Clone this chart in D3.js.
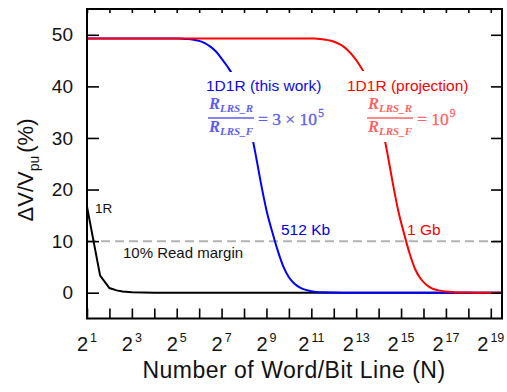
<!DOCTYPE html>
<html>
<head>
<meta charset="utf-8">
<script src="https://cdn.jsdelivr.net/npm/d3@7"></script>
<style>
  html, body { margin: 0; padding: 0; background: #fff; }
  svg { display: block; font-family: "Liberation Sans", Arial, Helvetica, sans-serif; }
</style>
</head>
<body>
<svg id="chart" width="507" height="392"></svg>
<script>
// log2(N) sample positions and ΔV/Vpu (%) for each array type
const blueExp = [1, 3, 4, 4.5, 5, 5.25, 5.5, 5.75, 6, 6.25, 6.5, 6.75, 7, 7.25, 7.5, 7.75, 8, 8.25, 8.5, 8.75, 9, 9.25, 9.5, 9.75, 10, 10.25, 10.5, 10.75, 11, 11.25, 11.5, 12, 12.5, 14, 16, 18, 19.5];
const blueVal = [49.3, 49.3, 49.3, 49.3, 49.28, 49.25, 49.16, 49.02, 48.82, 48.4, 47.7, 46.75, 45.4, 43.9, 42.2, 39.9, 36.8, 32.6, 27.2, 21.3, 16.0, 11.9, 8.2, 5.1, 3.0, 1.75, 1.0, 0.55, 0.3, 0.15, 0.07, 0.02, 0, 0, 0, 0, 0];

const redExp = [1, 4, 7, 9, 10, 10.875, 11.125, 11.375, 11.625, 11.875, 12.125, 12.375, 12.625, 12.875, 13.125, 13.375, 13.625, 13.875, 14.125, 14.375, 14.625, 14.875, 15.125, 15.375, 15.625, 15.875, 16.125, 16.375, 16.625, 16.875, 17.125, 17.375, 17.875, 18.375, 19.5];
const redVal = [49.3, 49.3, 49.3, 49.3, 49.3, 49.3, 49.27, 49.2, 49.05, 48.85, 48.45, 47.9, 47.0, 45.8, 44.3, 42.5, 40.1, 37.0, 32.8, 27.4, 21.4, 15.9, 11.6, 7.7, 4.6, 2.7, 1.55, 0.85, 0.5, 0.3, 0.17, 0.08, 0.02, 0, 0];

const oneRExp = [1, 1.585, 2, 2.322, 2.585, 3, 3.5, 4, 6, 10, 14, 19.5];
const oneRVal = [16.7, 3.3, 0.9, 0.45, 0.22, 0.08, 0.02, 0, 0, 0, 0, 0];

const readMargin = 10;
const yTicks = [0, 10, 20, 30, 40, 50];
const xMinorExp = d3.range(1, 20);
const xLabelExp = [1, 3, 5, 7, 9, 11, 13, 15, 17, 19];

const svg = d3.select("#chart");
const L = 87, R = 502, T = 9, B = 318.5;

const x = d3.scaleLog().base(2).domain([2, Math.pow(2, 19.5)]).range([L, R]);
const y = d3.scaleLinear().domain([-5, 55]).range([B, T]);

const zip = (ex, vs) => ex.map((e, i) => ({ n: Math.pow(2, e), v: vs[i] }));

const clipId = "plot-clip";
svg.append("clipPath").attr("id", clipId)
  .append("rect").attr("x", L).attr("y", T).attr("width", R - L).attr("height", B - T);

const plot = svg.append("g").attr("clip-path", `url(#${clipId})`);

// 10% read margin reference
plot.append("line")
  .attr("x1", L).attr("x2", R)
  .attr("y1", y(readMargin)).attr("y2", y(readMargin))
  .attr("stroke", "#b3b3b3").attr("stroke-width", 2)
  .attr("stroke-dasharray", "9,5");

const smooth = d3.line().x(d => x(d.n)).y(d => y(d.v)).curve(d3.curveMonotoneX);
const straight = d3.line().x(d => x(d.n)).y(d => y(d.v));

plot.append("path").datum(zip(oneRExp, oneRVal))
  .attr("d", straight).attr("fill", "none").attr("stroke", "#000").attr("stroke-width", 2);
plot.append("path").datum(zip(blueExp, blueVal))
  .attr("d", smooth).attr("fill", "none").attr("stroke", "#0000ff").attr("stroke-width", 2);
plot.append("path").datum(zip(redExp, redVal))
  .attr("d", smooth).attr("fill", "none").attr("stroke", "#ff0000").attr("stroke-width", 2);

// Axes: inward ticks on all four sides
const xBottom = d3.axisBottom(x).tickValues(xMinorExp.map(e => Math.pow(2, e)))
  .tickSizeInner(-10).tickSizeOuter(0).tickFormat("");
svg.append("g").attr("transform", `translate(0,${B})`).call(xBottom)
  .call(g => g.select(".domain").remove())
  .call(g => g.selectAll("line").attr("stroke", "#000").attr("stroke-width", 1.6));

const xTop = d3.axisTop(x).tickValues(xMinorExp.map(e => Math.pow(2, e)))
  .tickSizeInner(-4).tickSizeOuter(0).tickFormat("");
svg.append("g").attr("transform", `translate(0,${T})`).call(xTop)
  .call(g => g.select(".domain").remove())
  .call(g => g.selectAll("line").attr("stroke", "#000").attr("stroke-width", 1.6));

const yLeft = d3.axisLeft(y).tickValues(yTicks).tickSizeInner(-12).tickSizeOuter(0).tickPadding(14);
svg.append("g").attr("transform", `translate(${L},0)`).call(yLeft)
  .call(g => g.select(".domain").remove())
  .call(g => g.selectAll("line").attr("stroke", "#000").attr("stroke-width", 1.6))
  .call(g => g.selectAll("text").attr("font-size", 19).attr("fill", "#111")
    .attr("font-family", "'Liberation Sans', Arial, sans-serif"));

const yRight = d3.axisRight(y).tickValues(yTicks).tickSizeInner(-11).tickSizeOuter(0).tickFormat("");
svg.append("g").attr("transform", `translate(${R},0)`).call(yRight)
  .call(g => g.select(".domain").remove())
  .call(g => g.selectAll("line").attr("stroke", "#000").attr("stroke-width", 1.6));

// Power-of-two tick labels
const xl = svg.append("g").attr("fill", "#111");
xLabelExp.forEach(e => {
  const t = xl.append("text")
    .attr("x", x(Math.pow(2, e))).attr("y", 351)
    .attr("text-anchor", "middle").attr("font-size", 20);
  t.append("tspan").text("2");
  t.append("tspan").attr("font-size", 12.5).attr("dy", -9).attr("dx", 2).text(e);
});

// Frame
svg.append("rect").attr("x", L).attr("y", T).attr("width", R - L).attr("height", B - T)
  .attr("fill", "none").attr("stroke", "#000").attr("stroke-width", 2);

// Axis titles
svg.append("text").attr("x", 294).attr("y", 378).attr("text-anchor", "middle")
  .attr("font-size", 23).attr("letter-spacing", 0.5).attr("fill", "#111")
  .text("Number of Word/Bit Line (N)");

const yt = svg.append("text").attr("transform", "translate(33,170) rotate(-90)")
  .attr("text-anchor", "middle").attr("font-size", 22).attr("fill", "#111");
yt.append("tspan").text("ΔV/V");
yt.append("tspan").attr("font-size", 14).attr("dy", 6).text("pu");
yt.append("tspan").attr("dy", -6).attr("dx", 3).text("(%)");

// Curve annotations with their ratio formulas
function annotate(cfg) {
  const g = svg.append("g");
  g.append("rect").attr("x", cfg.box[0]).attr("y", cfg.box[1])
    .attr("width", cfg.box[2]).attr("height", cfg.box[3]).attr("fill", "#fff");
  g.append("text").attr("x", cfg.tx).attr("y", 91).attr("font-size", 15.5)
    .attr("fill", cfg.color).text(cfg.title);
  const serif = "'Liberation Serif', 'DejaVu Serif', serif";
  const frac = (sub, yy) => {
    const t = g.append("text").attr("x", cfg.fx).attr("y", yy).attr("text-anchor", "middle")
      .attr("font-family", serif).attr("font-style", "italic").attr("font-weight", "bold")
      .attr("fill", cfg.soft);
    t.append("tspan").attr("font-size", 16.5).text("R");
    t.append("tspan").attr("font-size", 11).attr("dy", 3).text(sub);
  };
  frac("LRS_R", 109);
  frac("LRS_F", 132);
  g.append("line").attr("x1", cfg.fx - 23).attr("x2", cfg.fx + 23)
    .attr("y1", 118).attr("y2", 118).attr("stroke", cfg.soft).attr("stroke-width", 1.3);
  const eq = g.append("text").attr("x", cfg.fx + 27).attr("y", 125)
    .attr("font-family", serif).attr("font-size", 17.5).attr("fill", cfg.soft)
    .attr("stroke", cfg.soft).attr("stroke-width", 0.3);
  eq.append("tspan").text(cfg.eq);
  eq.append("tspan").attr("font-size", 11.5).attr("dy", -8).attr("dx", 1).text(cfg.sup);
}

annotate({ box: [200, 72, 132, 70], tx: 206, fx: 231, title: "1D1R (this work)",
  color: "#0a0ae6", soft: "#5c5cf0", eq: "= 3 × 10", sup: "5" });
annotate({ box: [340, 71, 134, 71], tx: 347, fx: 390, title: "1D1R (projection)",
  color: "#ff0000", soft: "#ff6464", eq: "= 10", sup: "9" });

svg.append("text").attr("x", 281).attr("y", 235).attr("font-size", 15.5)
  .attr("fill", "#0000e0").text("512 Kb");
svg.append("text").attr("x", 407).attr("y", 235).attr("font-size", 15.5)
  .attr("fill", "#ff0000").text("1 Gb");
svg.append("text").attr("x", 95).attr("y", 213).attr("font-size", 13.5)
  .attr("fill", "#111").text("1R");
svg.append("text").attr("x", 123).attr("y", 258).attr("font-size", 15)
  .attr("fill", "#111").text("10% Read margin");
</script>
</body>
</html>
